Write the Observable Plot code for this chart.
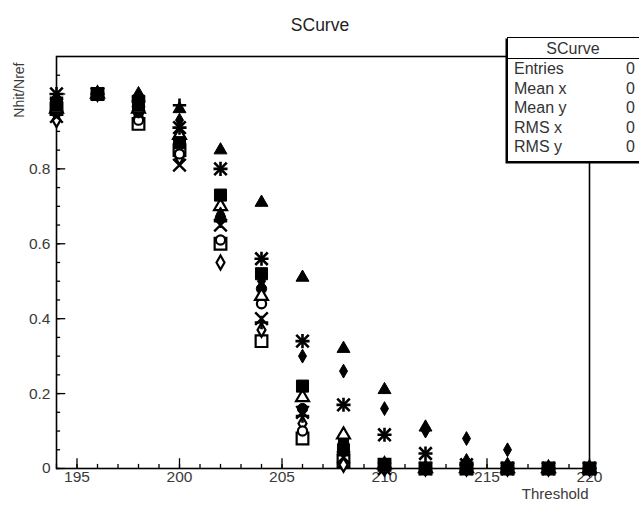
<!DOCTYPE html>
<html>
<head>
<meta charset="utf-8">
<script src="https://cdn.jsdelivr.net/npm/d3@7"></script>
<script src="https://cdn.jsdelivr.net/npm/@observablehq/plot@0.6"></script>
<style>
  html, body { margin: 0; padding: 0; background: #fff; overflow: hidden; }
  #wrap { position: relative; width: 639px; height: 506px; font-family: "Liberation Sans", Arial, sans-serif; }
  #stats { position: absolute; left: 507px; top: 37px; width: 134px; height: 123px; background: #fff;
           border: 1.5px solid #000; box-shadow: -1.5px 1.5px 0 #000; color: #333; font-size: 16px; }
  #stats .hdr { height: 20px; border-bottom: 1.5px solid #000; text-align: center; line-height: 21px; padding-right: 4px; }
  #stats .row { display: flex; justify-content: space-between; height: 19.6px; line-height: 20px; padding: 0 7px 0 6px; }
</style>
</head>
<body>
<div id="wrap"></div>
<script>
// ---- data ----
const thresholds = [194, 196, 198, 200, 202, 204, 206, 208, 210, 212, 214, 216, 218, 220];

const triangleFilled = [0.99, 1.00, 1.00, 0.96, 0.85, 0.71, 0.51, 0.32, 0.21, 0.11, 0.02, 0.01, 0.00, 0.00];
const diamondFilled  = [0.98, 1.00, 0.99, 0.93, 0.68, 0.50, 0.30, 0.26, 0.16, 0.10, 0.08, 0.05, 0.00, 0.00];
const asteriskSeries = [1.00, 1.00, 0.98, 0.91, 0.80, 0.56, 0.34, 0.17, 0.09, 0.04, 0.01, 0.00, 0.00, 0.00];
const squareFilled   = [0.97, 1.00, 0.97, 0.87, 0.73, 0.52, 0.22, 0.05, 0.01, 0.00, 0.00, 0.00, 0.00, 0.00];
const triangleOpen   = [0.96, 1.00, 0.96, 0.89, 0.70, 0.46, 0.19, 0.09, 0.01, 0.00, 0.00, 0.00, 0.00, 0.00];
const circleFilled   = [0.95, 1.00, 0.95, 0.88, 0.67, 0.48, 0.16, 0.07, 0.01, 0.00, 0.00, 0.00, 0.00, 0.00];
const plusSeries     = [0.99, 1.00, 0.99, 0.97, 0.66, 0.39, 0.14, 0.04, 0.00, 0.00, 0.00, 0.00, 0.00, 0.00];
const timesSeries    = [0.94, 1.00, 0.97, 0.81, 0.65, 0.40, 0.15, 0.03, 0.00, 0.00, 0.00, 0.00, 0.00, 0.00];
const squareOpen     = [0.96, 1.00, 0.92, 0.85, 0.60, 0.34, 0.08, 0.02, 0.01, 0.00, 0.00, 0.00, 0.00, 0.00];
const diamondOpen    = [0.93, 1.00, 0.94, 0.83, 0.55, 0.37, 0.12, 0.01, 0.00, 0.00, 0.00, 0.00, 0.00, 0.00];
const circleOpen     = [0.97, 1.00, 0.93, 0.84, 0.61, 0.44, 0.10, 0.08, 0.00, 0.00, 0.00, 0.00, 0.00, 0.00];

const xTickLabels = [195, 200, 205, 210, 215, 220];
const yTickLabels = [0, 0.2, 0.4, 0.6, 0.8];
const yMajorTicks = [0, 0.2, 0.4, 0.6, 0.8, 1.0];
const xMinorTicks = d3.range(194, 221, 1);
const yMinorTicks = d3.range(0, 1.1, 0.05);

const statsNames  = ["Entries", "Mean x", "Mean y", "RMS x", "RMS y"];
const statsValues = [0, 0, 0, 0, 0];

// ---- series styling (ROOT-like markers) ----
const seriesDefs = [
  {values: squareOpen,     symbols: ["square"],          fill: "white", r: 6.6, sw: 2.2},
  {values: diamondOpen,    symbols: ["diamond"],         fill: "white", r: 4.2, sw: 2.2},
  {values: circleOpen,     symbols: ["circle"],          fill: "white", r: 4.6, sw: 2.2},
  {values: timesSeries,    symbols: ["times"],           fill: "none",  r: 5.8, sw: 2.4},
  {values: plusSeries,     symbols: ["plus"],            fill: "none",  r: 4.4, sw: 2.6},
  {values: circleFilled,   symbols: ["circle"],          fill: "black", r: 5.2, sw: 1},
  {values: triangleOpen,   symbols: ["triangle"],        fill: "white", r: 4.8, sw: 2.2},
  {values: squareFilled,   symbols: ["square"],          fill: "black", r: 6.8, sw: 1},
  {values: asteriskSeries, symbols: ["plus", "times"],   fill: "none",  r: 4.6, sw: 2.6},
  {values: diamondFilled,  symbols: ["diamond"],         fill: "black", r: 4.2, sw: 1},
  {values: triangleFilled, symbols: ["triangle"],        fill: "black", r: 4.8, sw: 1}
];

const font = "Liberation Sans, Arial, sans-serif";
const textColor = "#3a3a3a";

const dotMarks = seriesDefs.flatMap(s =>
  s.symbols.map(sym =>
    Plot.dot(thresholds.map((t, i) => ({x: t, y: s.values[i]})), {
      x: "x", y: "y", symbol: sym, r: sym === "times" && s.symbols.length > 1 ? s.r * 1.25 : s.r,
      fill: s.fill, stroke: "black", strokeWidth: s.sw
    })
  )
);

const chart = Plot.plot({
  width: 639,
  height: 506,
  marginLeft: 56,
  marginRight: 50,
  marginTop: 56,
  marginBottom: 38,
  style: {fontFamily: font, background: "white"},
  x: {domain: [194, 220], axis: null},
  y: {domain: [0, 1.1], axis: null},
  marks: [
    // minor & major ticks (pointing inward)
    Plot.ruleX(xMinorTicks, {x: d => d, y1: 0, y2: 0.011, stroke: "black", strokeWidth: 1.3}),
    Plot.ruleX(xTickLabels, {x: d => d, y1: 0, y2: 0.026, stroke: "black", strokeWidth: 1.3}),
    Plot.ruleY(yMinorTicks, {y: d => d, x1: 194, x2: 194.2, stroke: "black", strokeWidth: 1.3}),
    Plot.ruleY(yMajorTicks, {y: d => d, x1: 194, x2: 194.45, stroke: "black", strokeWidth: 1.3}),
    Plot.frame({stroke: "black", strokeWidth: 1.6}),
    // tick labels
    Plot.text(xTickLabels, {x: d => d, frameAnchor: "bottom", dy: 13, text: d => String(d),
      fontSize: 15.5, fill: textColor}),
    Plot.text(yTickLabels, {y: d => d, frameAnchor: "left", dx: -6, textAnchor: "end",
      text: d => String(d), fontSize: 15.5, fill: textColor}),
    // axis titles
    Plot.text(["Threshold"], {frameAnchor: "bottom-right", dx: -1, dy: 30, textAnchor: "end",
      text: d => d, fontSize: 15, fill: textColor}),
    Plot.text(["Nhit/Nref"], {frameAnchor: "top-left", dx: -42, dy: 6, rotate: -90, textAnchor: "end",
      text: d => d, fontSize: 14, fill: textColor}),
    // title
    Plot.text(["SCurve"], {frameAnchor: "top", dy: -38, dx: -3, text: d => d, fontSize: 17.5, fill: "#222"}),
    ...dotMarks
  ]
});

const wrap = document.getElementById("wrap");
wrap.appendChild(chart);

// statistics box (ROOT style)
const stats = document.createElement("div");
stats.id = "stats";
const hdr = document.createElement("div");
hdr.className = "hdr";
hdr.textContent = "SCurve";
stats.appendChild(hdr);
statsNames.forEach((n, i) => {
  const row = document.createElement("div");
  row.className = "row";
  const a = document.createElement("span"); a.textContent = n;
  const b = document.createElement("span"); b.textContent = String(statsValues[i]);
  row.appendChild(a); row.appendChild(b);
  stats.appendChild(row);
});
wrap.appendChild(stats);
</script>
</body>
</html>
